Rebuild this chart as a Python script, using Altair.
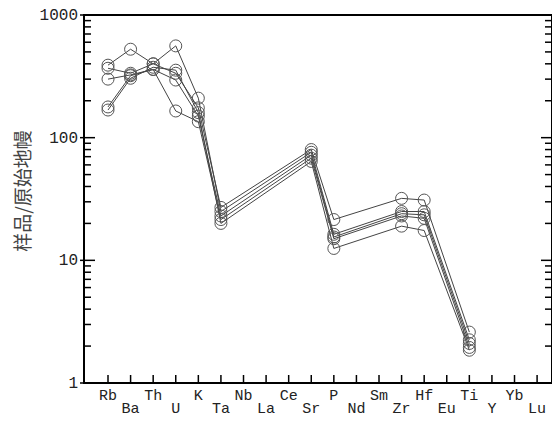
import altair as alt
import pandas as pd

elements = ["Rb", "Ba", "Th", "U", "K", "Ta", "Nb", "La", "Ce", "Sr",
            "P", "Nd", "Sm", "Zr", "Hf", "Eu", "Ti", "Y", "Yb", "Lu"]
measured = ["Rb", "Ba", "Th", "U", "K", "Ta", "Sr", "P", "Zr", "Hf", "Ti"]

s1 = [390, 526, 400, 335, 175, 27.0, 80, 21.5, 32.0, 31.0, 2.60]
s2 = [368, 335, 400, 560, 210, 25.0, 76, 16.3, 25.0, 25.0, 2.25]
s3 = [300, 325, 360, 295, 150, 23.0, 72, 15.5, 24.0, 23.5, 2.10]
s4 = [178, 320, 360, 165, 135, 21.5, 68, 15.0, 23.0, 22.0, 1.95]
s5 = [168, 305, 375, 355, 160, 20.0, 64, 12.5, 19.0, 17.5, 1.85]
series = {"S1": s1, "S2": s2, "S3": s3, "S4": s4, "S5": s5}

major_ticks = [1, 10, 100, 1000]
major_labels = ["1", "10", "100", "1000"]
minor_ticks = [2, 3, 4, 5, 6, 7, 8, 9, 20, 30, 40, 50, 60, 70, 80, 90,
               200, 300, 400, 500, 600, 700, 800, 900]
y_title = "样品/原始地幔"

# ---- layout (pixels) ----
W, H = 468, 368
X0, X1 = -1.063, 19.66           # x domain (category index units)
PX = W / (X1 - X0)               # pixels per category step
MAJOR_LEN, MINOR_LEN, XTICK_LEN, OUT_LEN = 11, 7, 8, 4

rows = []
for name, vals in series.items():
    for el, v in zip(measured, vals):
        rows.append({"series": name, "idx": elements.index(el), "el": el, "value": v})
df = pd.DataFrame(rows)

ytick_rows = []
for v in major_ticks + minor_ticks:
    major = v in major_ticks
    L = MAJOR_LEN if major else MINOR_LEN
    start = X0 - (OUT_LEN / PX if major else 0)
    ytick_rows.append({"value": v, "tx": start, "tx2": X0 + L / PX})
    ytick_rows.append({"value": v, "tx": X1, "tx2": X1 - L / PX})
ytick_df = pd.DataFrame(ytick_rows)

xtick_df = pd.DataFrame({"idx": list(range(len(elements))),
                         "ty": 1.0, "ty2": 10 ** (XTICK_LEN / (H / 3))})

ylab_df = pd.DataFrame({"value": major_ticks, "label": major_labels, "idx": X0})
xlab_df = pd.DataFrame({"idx": list(range(len(elements))), "label": elements,
                        "row": [i % 2 for i in range(len(elements))], "value": 1.0})

xscale = alt.Scale(domain=[X0, X1], nice=False, zero=False)
yscale = alt.Scale(type="log", domain=[1, 1000], nice=False)
FONT = "Liberation Mono"

X = alt.X("idx:Q", scale=xscale, axis=None)
Y = alt.Y("value:Q", scale=yscale, axis=None)

lines = alt.Chart(df).mark_line(color="#444444", strokeWidth=1).encode(
    x=X, y=Y, detail="series:N")

points = alt.Chart(df).mark_point(shape="circle", filled=False, size=144,
                                  color="#555555", strokeWidth=1, opacity=1).encode(
    x=X, y=Y)

ylabels = alt.Chart(ylab_df).mark_text(
    align="right", baseline="middle", dx=-6, font=FONT, fontSize=16, color="#222222"
).encode(x=X, y=Y, text="label:N")

xlab_top = alt.Chart(xlab_df).transform_filter("datum.row == 0").mark_text(
    align="center", baseline="alphabetic", dy=17, font=FONT, fontSize=15,
    color="#222222").encode(x=X, y=Y, text="label:N")

xlab_bot = alt.Chart(xlab_df).transform_filter("datum.row == 1").mark_text(
    align="center", baseline="alphabetic", dy=30, font=FONT, fontSize=15,
    color="#222222").encode(x=X, y=Y, text="label:N")

title = alt.Chart(pd.DataFrame({"t": [y_title]})).mark_text(
    angle=270, align="center", baseline="middle", font="Noto Sans CJK SC",
    fontSize=19, color="#444444"
).encode(x=alt.value(-60), y=alt.value(176), text="t:N")

yticks = alt.Chart(ytick_df).mark_rule(color="black", strokeWidth=1.5).encode(
    x=alt.X("tx:Q", scale=xscale, axis=None), x2="tx2:Q",
    y=alt.Y("value:Q", scale=yscale, axis=None))

xticks = alt.Chart(xtick_df).mark_rule(color="black", strokeWidth=1.5).encode(
    x=alt.X("idx:Q", scale=xscale, axis=None),
    y=alt.Y("ty:Q", scale=yscale, axis=None), y2="ty2:Q")

chart = alt.layer(lines, points, ylabels, xlab_top, xlab_bot, title, yticks, xticks).properties(
    width=W, height=H,
    autosize=alt.AutoSizeParams(type="none"),
    padding={"left": 76, "top": 7, "right": 0, "bottom": 34},
).configure_view(stroke="black", strokeWidth=2)

chart.save("out.html", embed_options={"renderer": "svg", "actions": False})
